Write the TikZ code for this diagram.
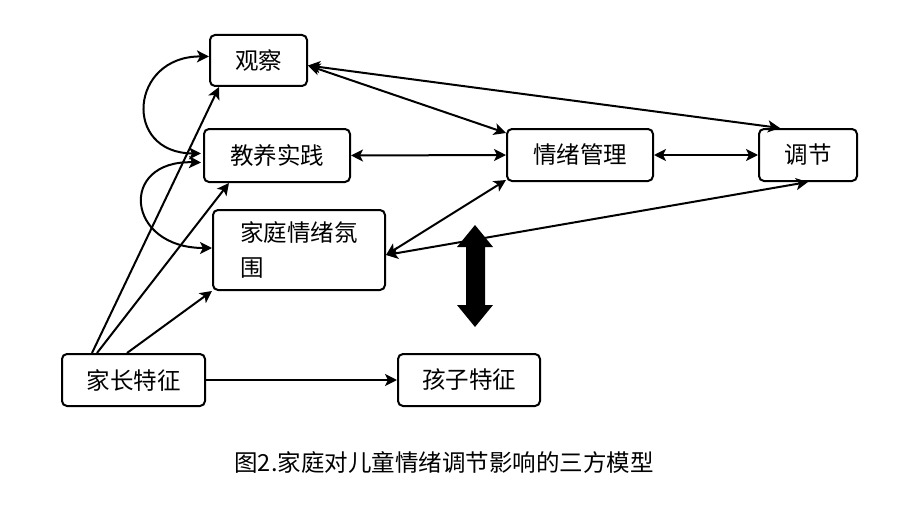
\documentclass[tikz,border=0pt]{standalone}
\usepackage{fontspec}
\setmainfont{Noto Sans CJK SC}
\usetikzlibrary{arrows.meta,calc}
\tikzset{
  box/.style={draw,line width=2pt,rounded corners=5pt,inner sep=0pt,font=\fontsize{23.5}{35}\selectfont},
  conn/.style={line width=2pt,{Stealth[length=12pt,width=12pt,inset=3pt]}-{Stealth[length=12pt,width=12pt,inset=3pt]}},
  oneway/.style={line width=2pt,-{Stealth[length=12pt,width=12pt,inset=3pt]}},
  bigarrow/.style={fill=black,draw=none}
}
\begin{document}
\begin{tikzpicture}[x=1pt,y=-1pt]
\useasboundingbox (0,0) rectangle (911,511);
% nodes
\node[box,minimum width=97pt,minimum height=51pt] (gc) at (258.5,60.5) {观察};
\node[box,minimum width=146pt,minimum height=53pt] (jy) at (277,155.5) {教养实践};
\node[box,minimum width=172pt,minimum height=80pt,align=left] (jt) at (299,250) {家庭情绪氛\\围};
\node[box,minimum width=146pt,minimum height=52pt] (qx) at (580,155) {情绪管理};
\node[box,minimum width=98pt,minimum height=52pt] (tj) at (808,155) {调节};
\node[box,minimum width=143pt,minimum height=52pt] (jz) at (133.5,380) {家长特征};
\node[box,minimum width=142pt,minimum height=52pt] (hz) at (469,380) {孩子特征};
\node[font=\fontsize{23.5}{28}\selectfont] (cap) at (444,462) {图2.家庭对儿童情绪调节影响的三方模型};
% thick double arrow
\path[bigarrow] (475,225) -- (493,247) -- (485,247) -- (485,305) -- (493,305) -- (475,327)
  -- (457,305) -- (466,305) -- (466,247) -- (457,247) -- cycle;
% anchor coordinates
\coordinate (gcR) at ($(gc.east)+(0,5)$);
\coordinate (tjT) at ($(tj.north)+(-28,0)$);
\coordinate (qxTL) at ($(qx.north west)+(0,5)$);
\coordinate (qxBL) at ($(qx.south west)+(0,-2)$);
\coordinate (jtR) at ($(jt.east)+(0,5)$);
\coordinate (gcL) at ($(gc.west)+(0,-4)$);
\coordinate (jyL1) at ($(jy.west)+(-2,-2)$);
\coordinate (jyL2) at ($(jy.west)+(-2,7)$);
\coordinate (jtL) at ($(jt.west)+(0,-2)$);
\coordinate (gcB) at ($(gc.south west)+(10,0)$);
\coordinate (jyB) at ($(jy.south west)+(26,0)$);
\coordinate (jzT1) at ($(jz.north west)+(31,0)$);
\coordinate (jzT2) at ($(jz.north west)+(36,0)$);
\coordinate (jzT3) at ($(jz.north west)+(66,0)$);
% connectors
\draw[conn] (gcR) -- (tjT);
\draw[conn] (gcR) -- (qxTL);
\draw[conn] (jy.east) -- (qx.west);
\draw[conn] (qx.east) -- (tj.west);
\draw[conn] (jtR) -- (qxBL);
\draw[conn] (jtR) -- (tj.south);
\draw[conn] (gcL) .. controls (130,56) and (122,153) .. (jyL1);
\draw[conn] (jyL2) .. controls (118,160) and (126,248) .. (jtL);
\draw[oneway] (jzT1) -- (gcB);
\draw[oneway] (jzT2) -- (jyB);
\draw[oneway] (jzT3) -- (jt.south west);
\draw[oneway] (jz.east) -- (hz.west);
\end{tikzpicture}
\end{document}
